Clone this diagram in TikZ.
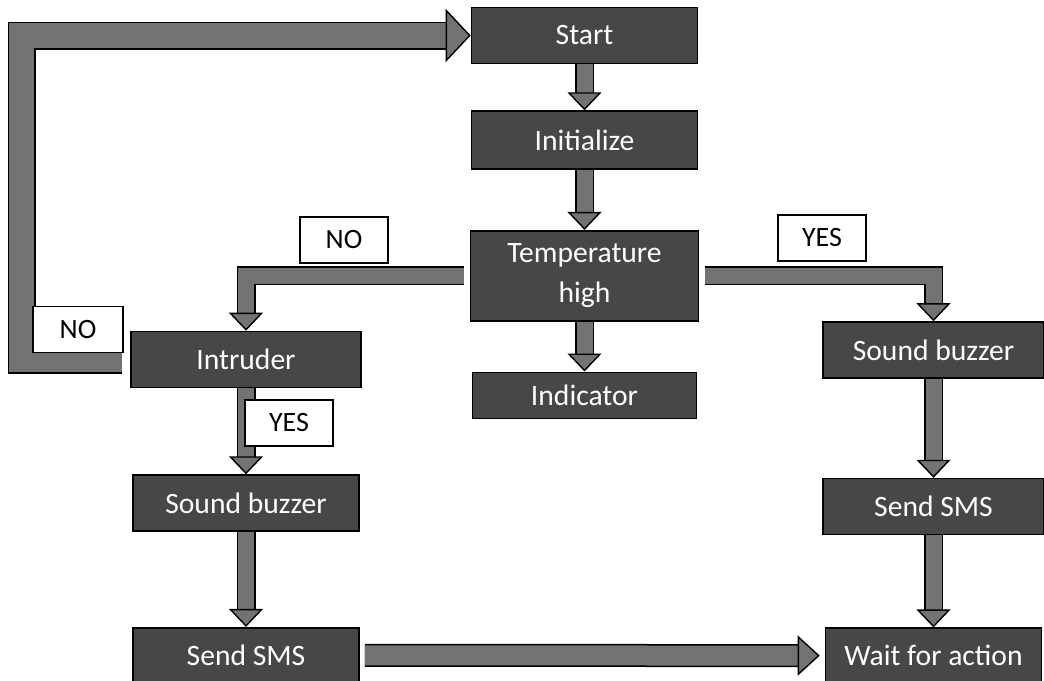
\documentclass[tikz,border=0pt]{standalone}
\usepackage{fontspec}
\setmainfont{Carlito}
\usetikzlibrary{arrows.meta,positioning}

\begin{document}
\begin{tikzpicture}[x=0.5pt, y=-0.5pt,
  box/.style={draw=black, line width=0.8pt, fill=black!72, text=white, font=\fontsize{14.8}{20}\selectfont, align=center, inner sep=0pt, minimum width=113pt, minimum height=28pt},
  tag/.style={draw=black, line width=0.8pt, fill=white, font=\fontsize{14}{16}\selectfont, inner sep=0pt, minimum width=44pt, minimum height=23pt},
  flow/.style={line width=8pt, draw=black!55, line join=miter,
    -{Triangle[length=9pt, width=17pt, color=black, fill=black!55, line width=0.7pt]},
    preaction={draw=black, line width=9.5pt, -, shorten >=8pt}},
  wideflow/.style={line width=10pt, draw=black!55, line join=miter,
    -{Triangle[length=11pt, width=20pt, color=black, fill=black!55, line width=0.7pt]},
    preaction={draw=black, line width=11.5pt, -, shorten >=12pt}},
  loopflow/.style={line width=12.5pt, draw=black!55, line join=miter,
    -{Triangle[length=12.5pt, width=26.5pt, color=black, fill=black!55, line width=0.7pt]},
    preaction={draw=black, line width=14pt, -, shorten >=11pt}},
]
\fill[white] (0,0) rectangle (1044,680);
\useasboundingbox (0,0) rectangle (1044,680);

% centre column
\node[box] (start) at (584.5,35.5) {Start};
\node[box, below=23pt of start, minimum height=29pt] (init) {Initialize};
\node[box, below=30pt of init, minimum width=114pt, minimum height=45pt] (temp) {Temperature\\high};
\node[box, below=25pt of temp, minimum width=112pt, minimum height=23pt] (ind) {Indicator};

% left column
\node[box, minimum width=115pt] (intr) at (246,359.5) {Intruder};
\node[box, below=43pt of intr] (buzl) {Sound buzzer};
\node[box, below=47.5pt of buzl, minimum height=27.5pt] (smsl) {Send SMS};

% right column
\node[box, minimum width=110.5pt] (buzr) at (933.5,350) {Sound buzzer};
\node[box, below=49.5pt of buzr, minimum width=110.5pt] (smsr) {Send SMS};
\node[box, below=46pt of smsr, minimum width=108pt, minimum height=27.5pt] (wait) {Wait for action};

\coordinate (bend) at (21.5,0);

\draw[flow] (start) -- (init);
\draw[flow] (init) -- (temp);
\draw[flow] (temp) -- (ind);
\draw[flow, shorten <=3pt] (temp.west) -| (intr.north);
\draw[flow, shorten <=3pt] (temp.east) -| (buzr.north);
\draw[flow] (intr) -- (buzl);
\draw[flow] (buzl) -- (smsl);
\draw[flow] (buzr) -- (smsr);
\draw[flow] (smsr) -- (wait);
\draw[wideflow, shorten <=2.5pt, shorten >=2.5pt] (smsl) -- (wait);
\draw[loopflow, shorten <=4pt] (intr.west) -| (bend |- start.west) -- (start.west);

% branch labels
\node[tag] (notemp) at (344,240) {NO};
\node[tag] (yestemp) at (822,238) {YES};
\node[tag, minimum width=45pt] (nointr) at (78,329.5) {NO};
\node[tag] (yesintr) at (289,423) {YES};
\end{tikzpicture}
\end{document}
